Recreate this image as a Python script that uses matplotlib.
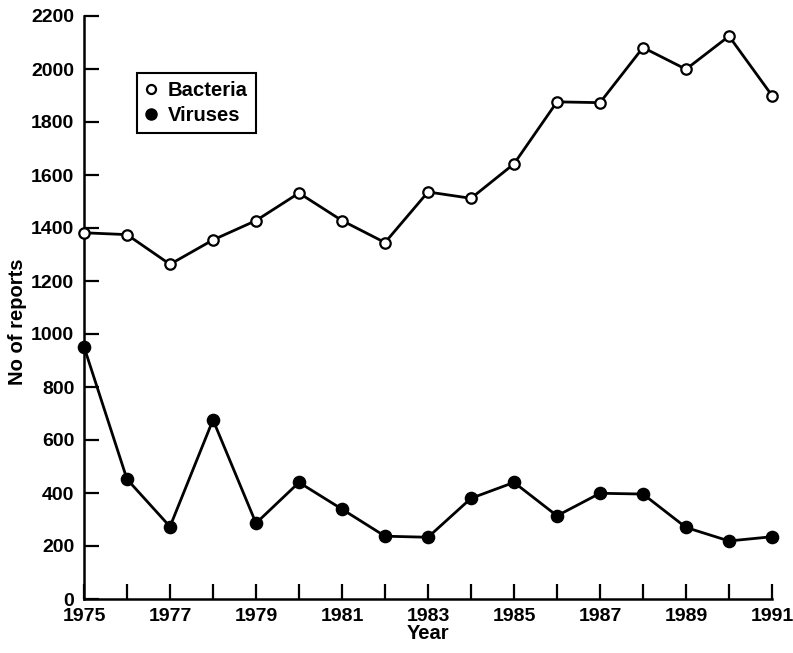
import matplotlib
matplotlib.use("Agg")
import matplotlib.pyplot as plt
from matplotlib.lines import Line2D

years = list(range(1975, 1992))
bacteria = [1382, 1375, 1263, 1355, 1428, 1532, 1428, 1345, 1536, 1512, 1642,
            1876, 1873, 2081, 1999, 2124, 1900]
viruses = [952, 452, 273, 676, 286, 440, 339, 237, 233, 380, 440,
           314, 399, 396, 270, 219, 235]
yticks = list(range(0, 2201, 200))
xticks_major = list(range(1975, 1992, 2))

plt.rcParams['font.family'] = ['Liberation Sans', 'DejaVu Sans']

fig = plt.figure(figsize=(7.93, 6.53), dpi=100)
ax = fig.add_axes([84/793, 54/653, 688/793, 583/653])

ax.plot(years, bacteria, color='black', lw=2.0, marker='o', ms=7.5,
        mfc='white', mec='black', mew=1.6, clip_on=False, zorder=3)
ax.plot(years, viruses, color='black', lw=2.0, marker='o', ms=8.8,
        mfc='black', mec='black', mew=1.0, clip_on=False, zorder=3)

ax.set_xlim(1975, 1991)
ax.set_ylim(0, 2200)
ax.spines['top'].set_visible(False)
ax.spines['right'].set_visible(False)
for s in ('left', 'bottom'):
    ax.spines[s].set_linewidth(1.8)

ax.set_xticks(years, minor=False)
ax.set_xticklabels([str(y) if y in xticks_major else '' for y in years])
ax.set_yticks(yticks)
ax.set_yticklabels([str(v) for v in yticks])
ax.tick_params(axis='both', direction='in', length=11, width=1.6,
               labelsize=14)
ax.tick_params(axis='y', pad=7)
ax.tick_params(axis='x', pad=6.5)
for lab in ax.get_xticklabels() + ax.get_yticklabels():
    lab.set_fontweight('bold')

ax.set_xlabel('Year', fontsize=14.5, fontweight='bold')
ax.set_ylabel('No of reports', fontsize=14.5, fontweight='bold')
ax.xaxis.set_label_coords(0.5, -0.060)
ax.xaxis.label.set_va('center')
ax.yaxis.set_label_coords(-0.096, 0.475)
ax.yaxis.label.set_va('center')

handles = [
    Line2D([], [], ls='none', marker='o', ms=6.5, mfc='white', mec='black', mew=1.6, color='black'),
    Line2D([], [], ls='none', marker='o', ms=8, mfc='black', mec='black', color='black'),
]
leg = ax.legend(handles, ['Bacteria', 'Viruses'], loc='upper left',
                bbox_to_anchor=(0.077, 0.902), borderaxespad=0,
                frameon=True, fancybox=False, edgecolor='black',
                framealpha=1, fontsize=14.6, handlelength=0.6,
                handletextpad=0.5, borderpad=0.4, labelspacing=0.3)
leg.get_frame().set_linewidth(1.5)
for t in leg.get_texts():
    t.set_fontweight('bold')

fig.savefig('out.png', dpi=100)
